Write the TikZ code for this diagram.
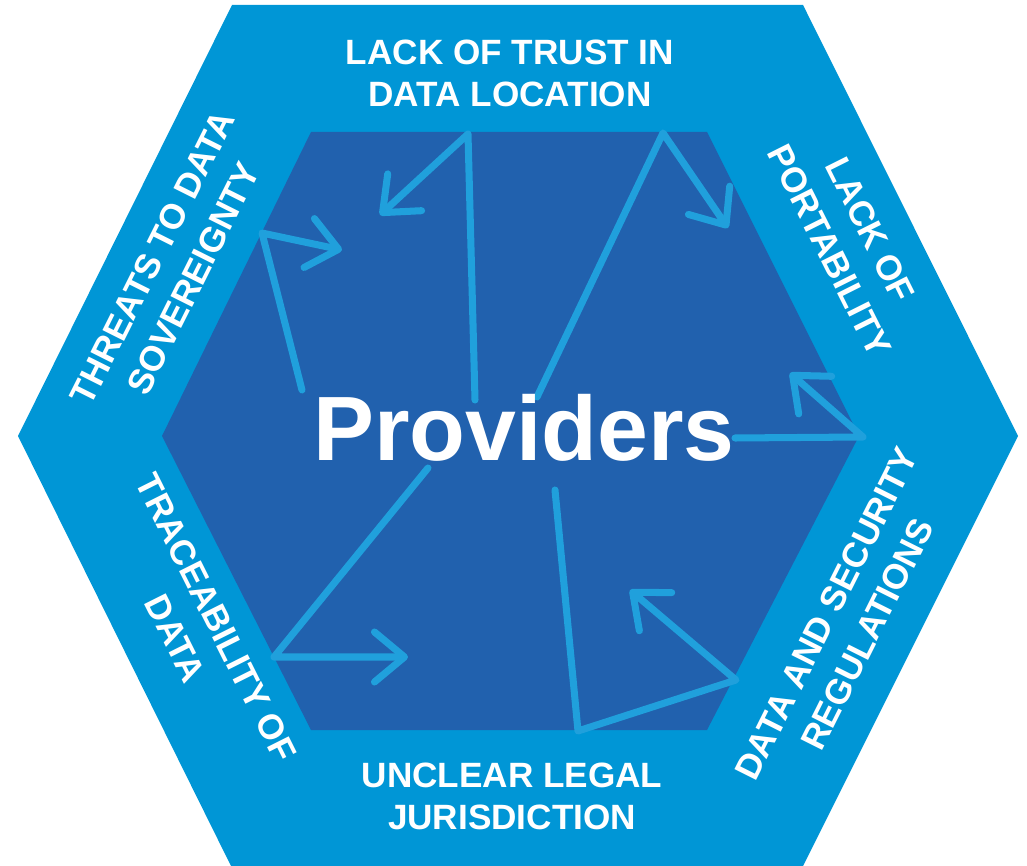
\documentclass[tikz,border=0pt]{standalone}
\usepackage{fontspec}
\setmainfont{Liberation Sans}
\usetikzlibrary{arrows.meta}

\definecolor{outerblue}{RGB}{0,150,214}
\definecolor{innerblue}{RGB}{33,97,174}
\definecolor{arrowblue}{RGB}{32,160,220}

\tikzset{
  rim/.style={white, font=\bfseries\fontsize{20}{24}\selectfont, align=center, inner sep=0pt},
  rimturn/.style={rim, font=\bfseries\fontsize{20}{26}\selectfont},
  flow/.style={arrowblue, line width=4pt, line cap=round, line join=round},
  head/.style={-{Straight Barb[round,length=6mm,width=10mm]}}
}

\begin{document}
\begin{tikzpicture}[x=0.2mm,y=-0.2mm]
\useasboundingbox (0,0) rectangle (1027,866);

% hexagons
\fill[outerblue] (232,5) -- (803,5) -- (1018,436) -- (803,866) -- (231,866) -- (18,436) -- cycle;
\fill[innerblue] (311,132) -- (707,132) -- (859,436) -- (707,730) -- (311,730) -- (162,436) -- cycle;

% turning points of the arrows
\coordinate (t0) at (475,400); \coordinate (t1) at (468,134); \coordinate (t2) at (380,215);
\coordinate (l0) at (302,390); \coordinate (l1) at (262,233); \coordinate (l2) at (342,250);
\coordinate (u0) at (537,397); \coordinate (u1) at (663,133); \coordinate (u2) at (728,228);
\coordinate (r0) at (735,438); \coordinate (r1) at (863,437); \coordinate (r2) at (790,373);
\coordinate (d0) at (555,490); \coordinate (d1) at (578,731); \coordinate (d2) at (736,680); \coordinate (d3) at (630,590);
\coordinate (b0) at (428,468); \coordinate (b1) at (274,657); \coordinate (b2) at (408,657);

\draw[flow,head] (t0) -- (t1) -- (t2);
\draw[flow,head] (l0) -- (l1) -- (l2);
\draw[flow,head] (u0) -- (u1) -- (u2);
\draw[flow,head] (r0) -- (r1) -- (r2);
\draw[flow,head] (d0) -- (d1) -- (d2) -- (d3);
\draw[flow,head] (b0) -- (b1) -- (b2);

% labels
\node[rim] (trust) at (510,73) {LACK OF TRUST IN\\DATA LOCATION};
\node[rimturn, rotate=63.4] (sovereignty) at (173,268) {THREATS TO DATA\\SOVEREIGNTY};
\node[rimturn, rotate=-63.4] (portability) at (850,240) {LACK OF\\PORTABILITY};
\node[rimturn, rotate=63.4] (regulations) at (847,624) {DATA AND SECURITY\\REGULATIONS};
\node[rimturn, rotate=-63.4] (traceability) at (196,628) {TRACEABILITY OF\\DATA};
\node[rim] (jurisdiction) at (512,796) {UNCLEAR LEGAL\\JURISDICTION};
\node[white, font=\bfseries\fontsize{52}{60}\selectfont, inner sep=0pt] (providers) at (524,428) {Providers};
\end{tikzpicture}
\end{document}
